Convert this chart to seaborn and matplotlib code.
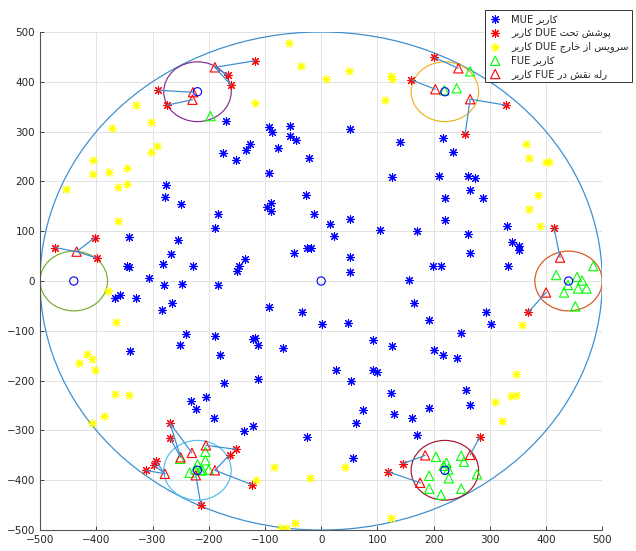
import numpy as np
import pandas as pd
import matplotlib
matplotlib.use('Agg')
import matplotlib.pyplot as plt
from matplotlib.patches import Circle
import seaborn as sns

# --- data ------------------------------------------------------------------
cell_radius = 500
femto_x = [-220, 220, -440, 440, -220, 220]
femto_y = [380, 380, 0, 0, -380, -380]
femto_r = 60
femto_colors = ['#7E2F8E', '#EDB120', '#77AC30', '#D95319', '#4DBEEE', '#A2142F']

mue_x = [-169, -175, -276, -278, -93, -88, -55, -56, -45, -126, -133, -76, -152, -21, 51, 141,
         -92, 126, -27, 216, 234, 210, 262, 274, 265, 221, 287, -342, -255, -267, -281, -346,
         -341, -228, -307, -279, -248, -183, -358, -367, -330, -266, -283, -241, -251, -188,
         -180, -340, -250, -183, -189, -90, -96, -89, -13, 15, 51, 105, 23, -25, -18, -49, 52,
         52, -135, -146, -150, 157, 165, -93, -35, 2, 48, 93, 126, -122, -118, -112, -68, 221,
         171, 262, 330, 339, 352, 352, 265, 199, 213, 333, 293, 192, 302, 248, 200, 217, 241,
         -173, -232, -205, -223, -190, -112, -138, -121, -26, 56, 27, 53, 92, 99, 124, 74, 62,
         129, 162, 258, 264, 192, 170]
mue_y = [322, 256, 192, 169, 310, 300, 311, 292, 283, 275, 263, 267, 242, 247, 305, 279,
         217, 209, 172, 287, 260, 211, 211, 207, 182, 167, 166, 89, 83, 54, 34, 31,
         29, 31, 7, -9, -5, -8, -29, -35, -35, -45, -59, -107, -129, -111,
         -149, -140, 155, 135, 107, 157, 149, 141, 134, 115, 125, 103, 90, 67, 67, 57, 48,
         19, 44, 31, 21, 3, -45, -53, -63, -86, -85, -118, -130, -117, -115, -128, -135, 123,
         101, 95, 111, 78, 70, 63, 57, 31, 31, 31, -63, -79, -86, -105, -139, -149, -154,
         -204, -241, -233, -257, -276, -197, -302, -292, -313, -356, -178, -200, -179, -182, -224, -258, -285,
         -266, -275, -218, -249, -255, -310]

due_x = [-291, -274, -118, -165, -160, 201, 160, 329, 256, -473, -403, -399, 414, 368,
         -269, -269, -294, -297, -312, -214, -151, -163, -123, 119, 145, 282]
due_y = [383, 353, 442, 413, 393, 449, 404, 353, 295, 67, 87, 46, 107, -63,
         -285, -315, -362, -370, -380, -450, -338, -349, -409, -383, -367, -313]

out_x = [-57, -36, 8, 50, 124, 126, 113, -118, -330, -303, -372, -292, -303, -406, -405, -377,
         -345, -362, -346, -453, 365, 369, 400, 406, 386, 370, 389, 358, -362, -379, -365, -416,
         -408, -430, -402, -366, -341, -386, -408, -84, -116, -20, -71, -63, -46, 42, 124,
         346, 338, 346, 309, 321]
out_y = [477, 432, 405, 422, 412, 405, 364, 357, 354, 319, 307, 272, 259, 243, 215, 219,
         227, 189, 195, 184, 276, 247, 239, 239, 172, 144, 111, -89, 121, -20, -83, -147,
         -156, -165, -179, -226, -228, -271, -285, -373, -399, -395, -495, -495, -486, -373, -476,
         -187, -230, -229, -243, -281]

fue_x = [-197, 265, 219, 241, 418, 455, 464, 439, 432, 457, 472, 484, 452, -251, -206, -206,
         -220, -224, -215, -211, -234, -200, 204, 249, 254, 223, 218, 226, 192, 227, 277, 192,
         249, 213]
fue_y = [331, 421, 383, 387, 12, 8, 1, -8, -23, -15, -15, 30, -51, -357, -343, -360,
         -368, -378, -380, -380, -385, -379, -353, -351, -363, -365, -371, -378, -391, -396, -388, -417,
         -417, -429]

relay_x = [-228, -229, -189, 244, 203, 265, -435, 425, 400, -230, -250, -278, -205, -223, -189,
           265, 185, 176]
relay_y = [379, 364, 429, 427, 385, 365, 59, 47, -23, -345, -354, -387, -330, -390, -380,
           -349, -350, -405]

# relay FUE index -> served DUE index
link_relay = [0, 1, 2, 2, 2, 3, 4, 5, 5, 6, 6, 6, 7, 8, 10, 10, 9, 11, 11, 11, 13, 12, 14, 14, 15, 16, 17]
link_due = [0, 1, 2, 3, 4, 5, 6, 7, 8, 9, 10, 11, 12, 13, 14, 15, 14, 16, 17, 18, 19, 20, 21, 22, 25, 24, 23]

labels = ['MUE کاربر', 'کاربر DUE تحت پوشش', 'کاربر DUE خارج از سرویس',
          'FUE کاربر', 'کاربر FUE در نقش رله']

# --- minimal Persian shaping (matplotlib does no Arabic shaping) -----------
FORMS = {
    'ا': ('\uFE8D', '\uFE8E', None, None),
    'ب': ('\uFE8F', '\uFE90', '\uFE91', '\uFE92'),
    'پ': ('\uFB56', '\uFB57', '\uFB58', '\uFB59'),
    'ت': ('\uFE95', '\uFE96', '\uFE97', '\uFE98'),
    'ج': ('\uFE9D', '\uFE9E', '\uFE9F', '\uFEA0'),
    'ح': ('\uFEA1', '\uFEA2', '\uFEA3', '\uFEA4'),
    'خ': ('\uFEA5', '\uFEA6', '\uFEA7', '\uFEA8'),
    'د': ('\uFEA9', '\uFEAA', None, None),
    'ر': ('\uFEAD', '\uFEAE', None, None),
    'ز': ('\uFEAF', '\uFEB0', None, None),
    'س': ('\uFEB1', '\uFEB2', '\uFEB3', '\uFEB4'),
    'ش': ('\uFEB5', '\uFEB6', '\uFEB7', '\uFEB8'),
    'ق': ('\uFED5', '\uFED6', '\uFED7', '\uFED8'),
    'ک': ('\uFB8E', '\uFB8F', '\uFB90', '\uFB91'),
    'ل': ('\uFEDD', '\uFEDE', '\uFEDF', '\uFEE0'),
    'ن': ('\uFEE5', '\uFEE6', '\uFEE7', '\uFEE8'),
    'و': ('\uFEED', '\uFEEE', None, None),
    'ه': ('\uFEE9', '\uFEEA', '\uFEEB', '\uFEEC'),
    'ی': ('\uFBFC', '\uFBFD', '\uFBFE', '\uFBFF'),
}


def shape_word(w):
    if not all(c in FORMS for c in w):
        return w
    out = []
    for i, c in enumerate(w):
        iso, fin, ini, med = FORMS[c]
        prev_joins = i > 0 and FORMS[w[i - 1]][2] is not None
        next_joins = i < len(w) - 1 and ini is not None
        if prev_joins and next_joins:
            out.append(med)
        elif prev_joins:
            out.append(fin)
        elif next_joins:
            out.append(ini)
        else:
            out.append(iso)
    return ''.join(reversed(out))


def persian(s):
    return ' '.join(shape_word(w) for w in s.split())


# --- plot -------------------------------------------------------------------
sns.set_style('ticks')
plt.rcParams['font.family'] = ['DejaVu Sans']

fig = plt.figure(figsize=(6.36, 5.51), dpi=100)
ax = fig.add_axes([0.063, 0.038, 0.884, 0.904])

line_col = '#3f90d0'
ax.add_patch(Circle((0, 0), cell_radius, fill=False, ec=line_col, lw=0.9))
for fx, fy, fc in zip(femto_x, femto_y, femto_colors):
    ax.add_patch(Circle((fx, fy), femto_r, fill=False, ec=fc, lw=0.85))

ast = (8, 2, 0)
sns.scatterplot(x=mue_x, y=mue_y, marker=ast, s=32, color='blue', linewidth=0.8,
                ax=ax, label=persian(labels[0]))
sns.scatterplot(x=due_x, y=due_y, marker=ast, s=32, color='red', linewidth=0.8,
                ax=ax, label=persian(labels[1]))
sns.scatterplot(x=out_x, y=out_y, marker=ast, s=32, color='yellow', linewidth=0.8,
                ax=ax, label=persian(labels[2]))
sns.scatterplot(x=fue_x, y=fue_y, marker='^', s=45, facecolor='none', edgecolor='lime',
                linewidth=0.8, ax=ax, label=persian(labels[3]))
sns.scatterplot(x=relay_x, y=relay_y, marker='^', s=45, facecolor='none', edgecolor='red',
                linewidth=0.8, ax=ax, label=persian(labels[4]))

# base stations
bs = pd.DataFrame({'x': [0] + femto_x, 'y': [0] + femto_y})
sns.scatterplot(data=bs, x='x', y='y', marker='o', s=35, facecolor='none',
                edgecolor='blue', linewidth=0.8, ax=ax)

for r, d in zip(link_relay, link_due):
    ax.plot([relay_x[r], due_x[d]], [relay_y[r], due_y[d]], color=line_col, lw=0.9)

ax.set_xlim(-500, 500)
ax.set_ylim(-500, 500)
ticks = np.arange(-500, 501, 100)
ax.set_xticks(ticks)
ax.set_yticks(ticks)
ax.tick_params(direction='in', length=3, labelsize=7.5, colors='#262626', width=0.6)
ax.grid(True, color='#e2e2e2', lw=0.7)
ax.set_axisbelow(True)
ax.set_xlabel('')
ax.set_ylabel('')
for side in ['top', 'right']:
    ax.spines[side].set_visible(False)
for side in ['left', 'bottom']:
    ax.spines[side].set_color('#555555')
    ax.spines[side].set_linewidth(0.8)

handles, labs = ax.get_legend_handles_labels()
if ax.get_legend() is not None:
    ax.get_legend().remove()
leg = fig.legend(handles, labs, loc='upper right', bbox_to_anchor=(0.994, 0.981),
                 fontsize=7.2, frameon=True, fancybox=False, framealpha=1,
                 edgecolor='#333333', handlelength=1.4, handletextpad=0.9,
                 borderpad=0.35, labelspacing=0.32, borderaxespad=0)
leg.get_frame().set_linewidth(0.7)

fig.savefig('out.png', dpi=100)
